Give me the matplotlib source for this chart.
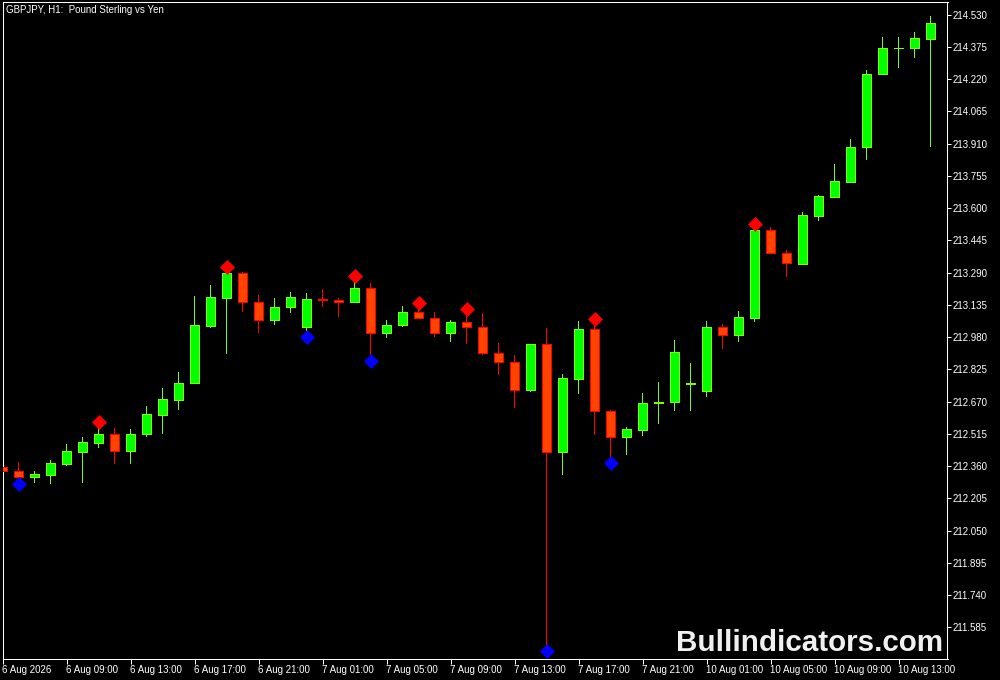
import matplotlib
matplotlib.use("Agg")
import matplotlib.pyplot as plt
import numpy as np

plt.rcParams['font.family'] = ['Liberation Sans', 'DejaVu Sans']

# ---- data (GBPJPY H1) ----
opens = [212.354, 212.335, 212.309, 212.318, 212.371, 212.429, 212.472, 212.513, 212.434, 212.513,
         212.607, 212.679, 212.761, 213.035, 213.170, 213.287, 213.147, 213.061, 213.123, 213.027,
         213.162, 213.157, 213.147, 213.215, 212.998, 213.037, 213.099, 213.070, 212.998, 213.051,
         213.027, 212.902, 212.859, 212.724, 212.945, 212.426, 212.780, 213.018, 212.623, 212.498,
         212.535, 212.663, 212.667, 212.755, 212.722, 213.029, 212.992, 213.073, 213.493, 213.383,
         213.330, 213.564, 213.655, 213.727, 213.893, 214.244, 214.370, 214.371, 214.415]
highs = [212.356, 212.380, 212.336, 212.389, 212.466, 212.500, 212.542, 212.543, 212.538, 212.649,
         212.735, 212.812, 213.178, 213.230, 213.287, 213.293, 213.182, 213.168, 213.197, 213.192,
         213.210, 213.167, 213.245, 213.239, 213.061, 213.128, 213.114, 213.099, 213.062, 213.085,
         213.094, 212.952, 212.894, 212.945, 213.024, 212.803, 213.057, 213.037, 212.629, 212.548,
         212.711, 212.764, 212.966, 212.855, 213.057, 213.043, 213.106, 213.493, 213.508, 213.399,
         213.581, 213.665, 213.812, 213.932, 214.264, 214.423, 214.423, 214.447, 214.524]
lows = [212.334, 212.301, 212.280, 212.275, 212.362, 212.280, 212.448, 212.371, 212.371, 212.501,
        212.516, 212.631, 212.756, 213.025, 212.900, 213.102, 213.001, 213.040, 213.094, 213.008,
        213.123, 213.078, 213.143, 212.895, 212.977, 213.027, 213.066, 212.982, 212.957, 212.948,
        212.895, 212.799, 212.641, 212.718, 211.500, 212.318, 212.708, 212.511, 212.405, 212.415,
        212.506, 212.564, 212.626, 212.626, 212.693, 212.923, 212.958, 213.054, 213.383, 213.270,
        213.330, 213.540, 213.654, 213.722, 213.833, 214.244, 214.275, 214.323, 213.895]
closes = [212.335, 212.309, 212.322, 212.373, 212.431, 212.474, 212.513, 212.434, 212.513, 212.609,
          212.681, 212.758, 213.037, 213.171, 213.287, 213.147, 213.061, 213.123, 213.171, 213.162,
          213.158, 213.147, 213.215, 212.998, 213.037, 213.099, 213.070, 212.998, 213.051, 213.027,
          212.902, 212.859, 212.724, 212.945, 212.426, 212.782, 213.018, 212.623, 212.498, 212.537,
          212.662, 212.666, 212.907, 212.757, 213.029, 212.992, 213.077, 213.493, 213.383, 213.335,
          213.566, 213.658, 213.731, 213.894, 214.245, 214.368, 214.372, 214.417, 214.489]

swing_high_bars = [6, 14, 22, 26, 29, 37, 47]
swing_low_bars = [1, 19, 23, 34, 38]

price_ticks = [214.530, 214.375, 214.220, 214.065, 213.910, 213.755, 213.600, 213.445, 213.290,
               213.135, 212.980, 212.825, 212.670, 212.515, 212.360, 212.205, 212.050, 211.895,
               211.740, 211.585]
time_tick_bars = [0, 4, 8, 12, 16, 20, 24, 28, 32, 36, 40, 44, 48, 52, 56]
time_labels = ["6 Aug 2026", "6 Aug 09:00", "6 Aug 13:00", "6 Aug 17:00", "6 Aug 21:00",
               "7 Aug 01:00", "7 Aug 05:00", "7 Aug 09:00", "7 Aug 13:00", "7 Aug 17:00",
               "7 Aug 21:00", "10 Aug 01:00", "10 Aug 05:00", "10 Aug 09:00", "10 Aug 13:00"]

title_text = "GBPJPY, H1:  Pound Sterling vs Yen"
watermark = "Bullindicators.com"

# ---- figure ----
W, H = 1000, 680
fig = plt.figure(figsize=(W / 100, H / 100), dpi=100, facecolor='black')
ax_left, ax_right, ax_top, ax_bottom = 2.5, 947.5, 1.5, 659.0
ax = fig.add_axes([ax_left / W, 1 - ax_bottom / H, (ax_right - ax_left) / W, (ax_bottom - ax_top) / H])
ax.set_facecolor('black')

ymin, ymax = 211.4324, 214.5935
ax.set_ylim(ymin, ymax)
bar_px = 16.0
ax.set_xlim(0, (ax_right - ax_left) / bar_px)

o = np.array(opens); h = np.array(highs); l = np.array(lows); c = np.array(closes)
x = np.arange(len(o))
up = c >= o
bull_fill, bull_edge = '#00ff00', '#7cfc00'
bear_fill, bear_edge = '#ff4500', '#ff0000'
fills = [bull_fill if u else bear_fill for u in up]
edges = [bull_edge if u else bear_edge for u in up]

px = 0.72  # 1 pixel in points
# wicks as 1-pixel wide filled bars (crisp)
ax.bar(x, h - l, bottom=l, width=1.2 / bar_px, color=edges, linewidth=0, zorder=2, antialiased=False)
ax.bar(x, np.abs(c - o), bottom=np.minimum(o, c), width=0.6, color=fills,
       edgecolor=edges, linewidth=px, zorder=3, antialiased=False)

# diamonds: 6 px beyond the extreme
price_per_px = (ymax - ymin) / (ax_bottom - ax_top)
off = 6 * price_per_px
sh = np.array(swing_high_bars); sl = np.array(swing_low_bars)
ax.plot(sh, h[sh] + off, linestyle='none', marker='D', ms=7.6, color='#ff0000', mec='#ff0000', mew=0.5, zorder=4)
ax.plot(sl, l[sl] - off, linestyle='none', marker='D', ms=7.6, color='#0000ff', mec='#0000ff', mew=0.5, zorder=4)

# axes styling
for s in ax.spines.values():
    s.set_color('white')
    s.set_linewidth(0.75)
ax.yaxis.tick_right()
ax.set_yticks(price_ticks)
ax.set_yticklabels([f"{v:.3f}" for v in price_ticks])
ax.set_xticks(time_tick_bars)
ax.set_xticklabels(time_labels, ha='left')
ax.tick_params(axis='y', colors='white', direction='out', length=3, width=0.72, pad=1, labelsize=7)
ax.tick_params(axis='x', colors='white', direction='out', length=3.6, width=0.72, pad=1, labelsize=7)

fig.text(6 / W, 1 - 13 / H, title_text, color='white', fontsize=7, va='baseline', ha='left')
fig.text(676 / W, 1 - 651 / H, watermark, color='#f0f0f0', fontsize=21.3, fontweight='bold',
         va='baseline', ha='left', family='Liberation Sans')

fig.savefig('out.png', dpi=100, facecolor='black')
